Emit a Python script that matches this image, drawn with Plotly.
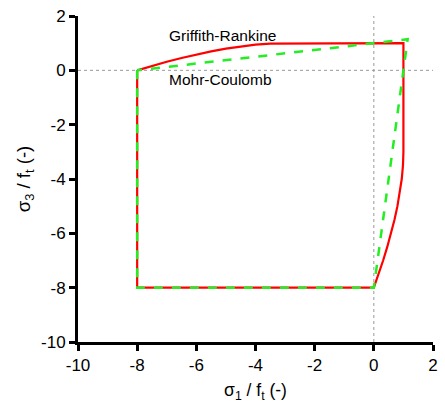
import plotly.graph_objects as go

# Griffith-Rankine envelope (sigma1/ft, sigma3/ft)
gr_x = [-8, -8, 0, 0.082, 0.162, 0.239, 0.314, 0.454, 0.583, 0.698, 0.798, 0.881, 0.944, 0.985, 1,
        1, -3, -3.5, -4, -4.5, -5, -5.5, -6, -6.5, -7, -7.25, -7.5, -7.75, -8]
gr_y = [0, -8, -8, -7.75, -7.5, -7.25, -7, -6.5, -6, -5.5, -5, -4.5, -4, -3.5, -3,
        1, 1, 0.985, 0.944, 0.881, 0.798, 0.698, 0.583, 0.454, 0.314, 0.239, 0.162, 0.082, 0]

# Mohr-Coulomb envelope
mc_x = [-8, -8, 0, 1.143, -8]
mc_y = [0, -8, -8, 1.143, 0]

tick_vals = [-10, -8, -6, -4, -2, 0, 2]
tick_text = ["-10", "-8", "-6", "-4", "-2", "0", "2"]

FONT = "Liberation Sans, Arial, Helvetica, sans-serif"

fig = go.Figure()
fig.add_trace(go.Scatter(x=gr_x, y=gr_y, mode="lines",
                         line=dict(color="#ff0000", width=2.2),
                         name="Griffith-Rankine"))
fig.add_trace(go.Scatter(x=mc_x, y=mc_y, mode="lines",
                         line=dict(color="#22ee22", width=2.5, dash="dash"), name="Mohr-Coulomb"))

fig.add_shape(type="line", x0=0, x1=0, y0=-10, y1=2, xref="x", yref="y",
              line=dict(color="#999999", width=1, dash="dot"), layer="below")
fig.add_shape(type="line", x0=-10, x1=2, y0=0, y1=0, xref="x", yref="y",
              line=dict(color="#999999", width=1, dash="dot"), layer="below")

fig.add_annotation(x=-5.1, y=1.28, text="Griffith-Rankine", showarrow=False,
                   font=dict(family=FONT, size=15.5, color="black"), xref="x", yref="y")
fig.add_annotation(x=-5.2, y=-0.33, text="Mohr-Coulomb", showarrow=False,
                   font=dict(family=FONT, size=15.5, color="black"), xref="x", yref="y")

axis_common = dict(
    range=[-10, 2], tickvals=tick_vals, ticktext=tick_text,
    showgrid=False, zeroline=False, showline=True, linecolor="black", linewidth=3,
    ticks="outside", ticklen=6, tickwidth=3, tickcolor="black",
    tickfont=dict(family=FONT, size=17, color="black"),
)

fig.update_layout(
    width=445, height=405,
    margin=dict(l=78, r=7, t=15, b=62),
    plot_bgcolor="white", paper_bgcolor="white",
    showlegend=False,
    xaxis=dict(**axis_common,
               title=dict(text="σ<sub>1</sub> / f<sub>t</sub> (-)",
                          font=dict(family=FONT, size=17.5, color="black"), standoff=10)),
    yaxis=dict(**axis_common,
               title=dict(text="σ<sub>3</sub> / f<sub>t</sub> (-)",
                          font=dict(family=FONT, size=18.5, color="black"), standoff=6)),
)

fig.write_html("out.html")
